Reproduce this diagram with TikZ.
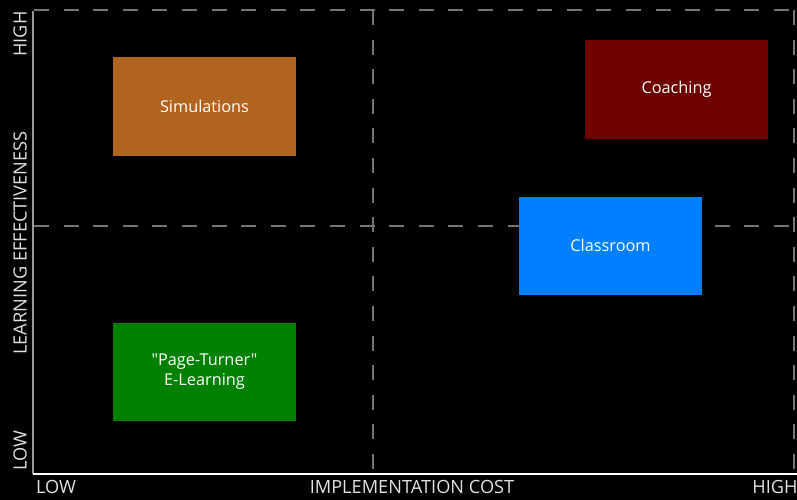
\documentclass[tikz,border=0pt]{standalone}
\usepackage{fontspec}
\setmainfont[Ligatures=TeXOff]{Open Sans}
\usetikzlibrary{positioning}
\definecolor{simfill}{RGB}{177,100,30}
\definecolor{coachfill}{RGB}{110,0,0}
\definecolor{classfill}{RGB}{0,128,255}
\definecolor{pagefill}{RGB}{0,128,0}
\definecolor{axistext}{RGB}{225,225,225}
\definecolor{dashgray}{RGB}{118,118,118}
\tikzset{
  quadbox/.style={minimum width=183pt, minimum height=98pt, inner sep=0pt,
    align=center, text=white, font=\fontsize{16.3}{20}\selectfont}, % the four boxes
  axislabel/.style={text=axistext, inner sep=0pt, font=\fontsize{18.2}{22}\selectfont},
  gridline/.style={dashgray, line width=1.1pt, dash pattern=on 15pt off 14.6pt},
}

\begin{document}
\begin{tikzpicture}[x=1pt,y=-1pt]
    \fill[black] (0,0) rectangle (797,500);
    \useasboundingbox (0,0) rectangle (797,500);

    % corners of the chart
    \coordinate (O) at (33,474);
    \coordinate (Ytop) at (33,11);
    \coordinate (Xend) at (797,474);
    \coordinate (TL) at (34,10);
    \coordinate (TR) at (797,10);
    \coordinate (RT) at (794,10);
    \coordinate (RB) at (794,470);
    \coordinate (MT) at (373,10);
    \coordinate (MB) at (373,470);
    \coordinate (HL) at (34,226);
    \coordinate (HR) at (797,226);

    % dashed quadrant lines
    \draw[gridline] (TL) -- (TR);
    \draw[gridline] (RT) -- (RB);
    \draw[gridline] (MT) -- (MB);
    \draw[gridline] (HL) -- (HR);

    % axes
    \draw[gray!80!white, line width=1.4pt] (O) -- (Ytop);
    \draw[white, line width=1.4pt] (O) -- (Xend);

    % the boxes
    \node[quadbox, fill=simfill] (Sim) at (204.5,106.5) {Simulations};
    \node[quadbox, fill=coachfill] (Coach) at (676.5,89.5) {Coaching};
    \node[quadbox, fill=classfill] (Class) at (610.5,245.5) {Classroom};
    \node[quadbox, fill=pagefill] (Page) at (204.5,372) {"Page-Turner"\\E-Learning};

    % axis labels
    \node[axislabel, rotate=90] (YHigh) at (20,34) {HIGH};
    \node[axislabel, rotate=90] (YName) at (20,243) {LEARNING EFFECTIVENESS};
    \node[axislabel, rotate=90] (YLow) at (20,451) {LOW};
    \node[axislabel] (XLow) at (56,487) {LOW};
    \node[axislabel] (XName) at (412,487) {IMPLEMENTATION COST};
    \node[axislabel] (XHigh) at (775,487) {HIGH};
\end{tikzpicture}
\end{document}
